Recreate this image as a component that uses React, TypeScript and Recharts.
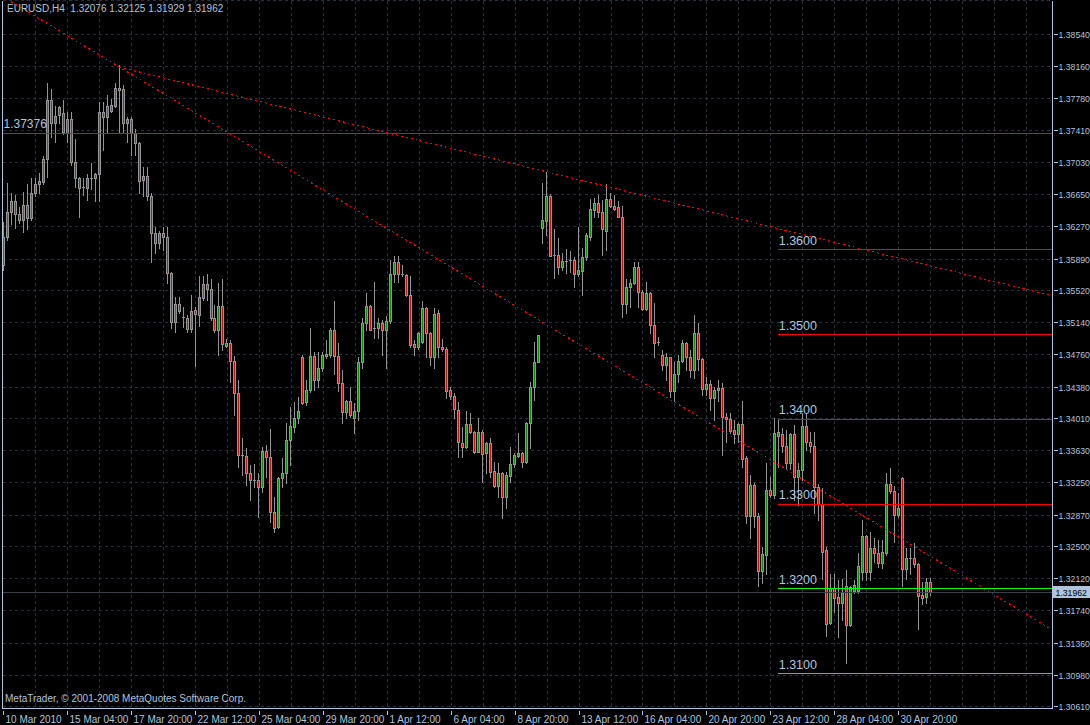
import { ComposedChart, Bar, XAxis, YAxis, CartesianGrid, ReferenceLine } from 'recharts'

// EURUSD H4, 10 Mar 2010 12:00 .. 3 May 2010
const opens = [
  1.3582, 1.3615, 1.3644, 1.3657, 1.3642, 1.3635, 1.3653, 1.3637, 1.3667, 1.3677,
  1.3680, 1.3707, 1.3777, 1.3750, 1.3759, 1.3761, 1.3738, 1.3754, 1.3704, 1.3685,
  1.3673, 1.3673, 1.3685, 1.3684, 1.3689, 1.3762, 1.3757, 1.3764, 1.3770, 1.3791,
  1.3789, 1.3749, 1.3754, 1.3738, 1.3726, 1.3682, 1.3687, 1.3663, 1.3620, 1.3608,
  1.3620, 1.3615, 1.3573, 1.3515, 1.3536, 1.3521, 1.3520, 1.3507, 1.3529, 1.3523,
  1.3543, 1.3559, 1.3554, 1.3520, 1.3505, 1.3534, 1.3487, 1.3490, 1.3469, 1.3431,
  1.3358, 1.3357, 1.3337, 1.3328, 1.3329, 1.3320, 1.3363, 1.3356, 1.3291, 1.3273,
  1.3331, 1.3337, 1.3376, 1.3391, 1.3402, 1.3473, 1.3420, 1.3435, 1.3475, 1.3446,
  1.3460, 1.3475, 1.3476, 1.3505, 1.3475, 1.3443, 1.3409, 1.3422, 1.3402, 1.3410,
  1.3467, 1.3514, 1.3534, 1.3507, 1.3508, 1.3514, 1.3505, 1.3516, 1.3571, 1.3585,
  1.3571, 1.3570, 1.3546, 1.3489, 1.3485, 1.3491, 1.3531, 1.3502, 1.3473, 1.3525,
  1.3485, 1.3483, 1.3435, 1.3428, 1.3411, 1.3372, 1.3367, 1.3394, 1.3385, 1.3362,
  1.3385, 1.3360, 1.3372, 1.3339, 1.3321, 1.3337, 1.3308, 1.3333, 1.3347, 1.3357,
  1.3360, 1.3350, 1.3396, 1.3438, 1.3468, 1.3626, 1.3634, 1.3663, 1.3593, 1.3594,
  1.3580, 1.3586, 1.3587, 1.3588, 1.3571, 1.3575, 1.3591, 1.3615, 1.3647, 1.3655,
  1.3645, 1.3622, 1.3660, 1.3651, 1.3650, 1.3639, 1.3536, 1.3556, 1.3561, 1.3580,
  1.3550, 1.3530, 1.3549, 1.3511, 1.3490, 1.3476, 1.3464, 1.3473, 1.3433, 1.3453,
  1.3469, 1.3490, 1.3474, 1.3458, 1.3502, 1.3471, 1.3436, 1.3442, 1.3425, 1.3434,
  1.3437, 1.3403, 1.3400, 1.3387, 1.3383, 1.3394, 1.3354, 1.3286, 1.3322, 1.3286,
  1.3221, 1.3240, 1.3317, 1.3311, 1.3380, 1.3383, 1.3368, 1.3349, 1.3383, 1.3332,
  1.3340, 1.3392, 1.3373, 1.3368, 1.3320, 1.3300, 1.3246, 1.3160, 1.3201, 1.3190,
  1.3183, 1.3204, 1.3157, 1.3198, 1.3198, 1.3220, 1.3262, 1.3220, 1.3248, 1.3242,
  1.3230, 1.3242, 1.3324, 1.3315, 1.3287, 1.3331, 1.3224, 1.3237, 1.3236, 1.3229,
  1.3193, 1.3190, 1.32076,
]

const highs = [
  1.3633, 1.3679, 1.3667, 1.3664, 1.3650, 1.3668, 1.3677, 1.3684, 1.3684, 1.3691,
  1.3710, 1.3797, 1.3789, 1.3769, 1.3770, 1.3777, 1.3762, 1.3762, 1.3730, 1.3686,
  1.3685, 1.3689, 1.3702, 1.3691, 1.3774, 1.3774, 1.3783, 1.3778, 1.3797, 1.3818,
  1.3794, 1.3756, 1.3756, 1.3742, 1.3727, 1.3697, 1.3698, 1.3667, 1.3627, 1.3622,
  1.3627, 1.3627, 1.3574, 1.3544, 1.3544, 1.3533, 1.3523, 1.3547, 1.3533, 1.3569,
  1.3569, 1.3571, 1.3565, 1.3535, 1.3561, 1.3565, 1.3495, 1.3494, 1.3475, 1.3446,
  1.3378, 1.3366, 1.3346, 1.3347, 1.3337, 1.3367, 1.3370, 1.3389, 1.3308, 1.3332,
  1.3354, 1.3396, 1.3415, 1.3420, 1.3426, 1.3476, 1.3446, 1.3508, 1.3479, 1.3479,
  1.3479, 1.3494, 1.3508, 1.3539, 1.3490, 1.3458, 1.3423, 1.3438, 1.3419, 1.3474,
  1.3520, 1.3549, 1.3535, 1.3562, 1.3520, 1.3517, 1.3522, 1.3588, 1.3592, 1.3592,
  1.3582, 1.3571, 1.3569, 1.3494, 1.3503, 1.3539, 1.3533, 1.3503, 1.3531, 1.3529,
  1.3495, 1.3485, 1.3438, 1.3431, 1.3420, 1.3391, 1.3410, 1.3407, 1.3386, 1.3402,
  1.3387, 1.3373, 1.3378, 1.3350, 1.3348, 1.3338, 1.3338, 1.3367, 1.3360, 1.3384,
  1.3361, 1.3397, 1.3444, 1.3491, 1.3500, 1.3679, 1.3692, 1.3666, 1.3624, 1.3614,
  1.3596, 1.3601, 1.3598, 1.3591, 1.3627, 1.3602, 1.3620, 1.3660, 1.3661, 1.3664,
  1.3659, 1.3677, 1.3667, 1.3664, 1.3657, 1.3651, 1.3566, 1.3565, 1.3586, 1.3586,
  1.3553, 1.3562, 1.3550, 1.3537, 1.3497, 1.3482, 1.3478, 1.3474, 1.3467, 1.3476,
  1.3494, 1.3491, 1.3482, 1.3523, 1.3514, 1.3472, 1.3450, 1.3446, 1.3438, 1.3446,
  1.3443, 1.3407, 1.3407, 1.3399, 1.3396, 1.3422, 1.3357, 1.3334, 1.3325, 1.3289,
  1.3249, 1.3348, 1.3332, 1.3402, 1.3400, 1.3390, 1.3387, 1.3384, 1.3393, 1.3348,
  1.3407, 1.3407, 1.3385, 1.3385, 1.3324, 1.3319, 1.3249, 1.3218, 1.3218, 1.3210,
  1.3212, 1.3222, 1.3204, 1.3210, 1.3242, 1.3281, 1.3264, 1.3267, 1.3260, 1.3258,
  1.3258, 1.3337, 1.3343, 1.3321, 1.3313, 1.3332, 1.3248, 1.3248, 1.3254, 1.3231,
  1.3208, 1.3213, 1.32125,
]

const lows = [
  1.3576, 1.3612, 1.3630, 1.3626, 1.3632, 1.3621, 1.3625, 1.3635, 1.3663, 1.3667,
  1.3678, 1.3686, 1.3733, 1.3727, 1.3750, 1.3736, 1.3727, 1.3700, 1.3674, 1.3639,
  1.3664, 1.3659, 1.3671, 1.3657, 1.3657, 1.3718, 1.3739, 1.3762, 1.3768, 1.3738,
  1.3738, 1.3727, 1.3712, 1.3712, 1.3667, 1.3663, 1.3659, 1.3586, 1.3596, 1.3602,
  1.3600, 1.3561, 1.3508, 1.3503, 1.3525, 1.3509, 1.3503, 1.3503, 1.3463, 1.3510,
  1.3541, 1.3541, 1.3517, 1.3503, 1.3476, 1.3482, 1.3485, 1.3444, 1.3405, 1.3344,
  1.3334, 1.3322, 1.3305, 1.3320, 1.3285, 1.3314, 1.3332, 1.3279, 1.3267, 1.3272,
  1.3320, 1.3325, 1.3346, 1.3385, 1.3396, 1.3418, 1.3417, 1.3432, 1.3435, 1.3438,
  1.3457, 1.3472, 1.3474, 1.3454, 1.3433, 1.3396, 1.3402, 1.3403, 1.3384, 1.3399,
  1.3461, 1.3505, 1.3505, 1.3496, 1.3496, 1.3476, 1.3461, 1.3514, 1.3562, 1.3562,
  1.3569, 1.3545, 1.3485, 1.3476, 1.3483, 1.3490, 1.3473, 1.3464, 1.3461, 1.3474,
  1.3480, 1.3425, 1.3424, 1.3402, 1.3355, 1.3355, 1.3366, 1.3384, 1.3360, 1.3361,
  1.3326, 1.3337, 1.3332, 1.3320, 1.3308, 1.3284, 1.3295, 1.3326, 1.3344, 1.3355,
  1.3344, 1.3349, 1.3366, 1.3423, 1.3467, 1.3608, 1.3617, 1.3592, 1.3567, 1.3571,
  1.3576, 1.3573, 1.3574, 1.3556, 1.3569, 1.3546, 1.3588, 1.3612, 1.3639, 1.3639,
  1.3594, 1.3600, 1.3650, 1.3647, 1.3638, 1.3521, 1.3525, 1.3533, 1.3559, 1.3533,
  1.3529, 1.3529, 1.3502, 1.3473, 1.3488, 1.3458, 1.3446, 1.3426, 1.3421, 1.3444,
  1.3467, 1.3458, 1.3450, 1.3449, 1.3458, 1.3429, 1.3429, 1.3411, 1.3399, 1.3421,
  1.3358, 1.3373, 1.3384, 1.3372, 1.3373, 1.3344, 1.3278, 1.3260, 1.3273, 1.3204,
  1.3207, 1.3218, 1.3308, 1.3307, 1.3344, 1.3362, 1.3343, 1.3341, 1.3305, 1.3299,
  1.3328, 1.3364, 1.3362, 1.3289, 1.3281, 1.3212, 1.3145, 1.3159, 1.3173, 1.3143,
  1.3163, 1.3113, 1.3156, 1.3195, 1.3195, 1.3210, 1.3210, 1.3210, 1.3232, 1.3226,
  1.3225, 1.3240, 1.3313, 1.3255, 1.3285, 1.3204, 1.3212, 1.3218, 1.3226, 1.3153,
  1.3182, 1.3183, 1.31929,
]

const closes = [
  1.3615, 1.3644, 1.3657, 1.3642, 1.3635, 1.3653, 1.3637, 1.3667, 1.3677, 1.3681,
  1.3707, 1.3777, 1.3750, 1.3758, 1.3768, 1.3739, 1.3754, 1.3704, 1.3685, 1.3673,
  1.3674, 1.3685, 1.3684, 1.3689, 1.3762, 1.3757, 1.3770, 1.3771, 1.3791, 1.3788,
  1.3749, 1.3754, 1.3738, 1.3726, 1.3681, 1.3687, 1.3663, 1.3620, 1.3608, 1.3620,
  1.3615, 1.3573, 1.3515, 1.3536, 1.3528, 1.3520, 1.3507, 1.3528, 1.3524, 1.3544,
  1.3559, 1.3554, 1.3520, 1.3505, 1.3534, 1.3489, 1.3490, 1.3469, 1.3431, 1.3358,
  1.3357, 1.3337, 1.3328, 1.3329, 1.3320, 1.3363, 1.3356, 1.3291, 1.3272, 1.3331,
  1.3337, 1.3376, 1.3392, 1.3402, 1.3410, 1.3419, 1.3435, 1.3475, 1.3446, 1.3461,
  1.3476, 1.3477, 1.3505, 1.3475, 1.3443, 1.3409, 1.3422, 1.3405, 1.3410, 1.3467,
  1.3514, 1.3534, 1.3505, 1.3508, 1.3514, 1.3505, 1.3516, 1.3571, 1.3585, 1.3571,
  1.3570, 1.3546, 1.3488, 1.3485, 1.3502, 1.3531, 1.3502, 1.3473, 1.3524, 1.3485,
  1.3483, 1.3433, 1.3428, 1.3412, 1.3373, 1.3367, 1.3394, 1.3385, 1.3362, 1.3385,
  1.3359, 1.3372, 1.3338, 1.3321, 1.3337, 1.3308, 1.3334, 1.3347, 1.3358, 1.3360,
  1.3350, 1.3396, 1.3438, 1.3468, 1.3499, 1.3635, 1.3663, 1.3593, 1.3594, 1.3580,
  1.3587, 1.3587, 1.3588, 1.3571, 1.3576, 1.3591, 1.3617, 1.3648, 1.3655, 1.3645,
  1.3624, 1.3660, 1.3651, 1.3648, 1.3639, 1.3536, 1.3556, 1.3561, 1.3580, 1.3550,
  1.3530, 1.3549, 1.3511, 1.3490, 1.3491, 1.3464, 1.3473, 1.3433, 1.3453, 1.3469,
  1.3490, 1.3474, 1.3458, 1.3502, 1.3471, 1.3436, 1.3442, 1.3425, 1.3435, 1.3437,
  1.3403, 1.3400, 1.3386, 1.3383, 1.3394, 1.3353, 1.3286, 1.3322, 1.3286, 1.3221,
  1.3241, 1.3317, 1.3311, 1.3384, 1.3385, 1.3368, 1.3349, 1.3383, 1.3332, 1.3340,
  1.3392, 1.3373, 1.3368, 1.3320, 1.3300, 1.3244, 1.3159, 1.3201, 1.3189, 1.3183,
  1.3195, 1.3158, 1.3202, 1.3205, 1.3227, 1.3262, 1.3220, 1.3248, 1.3242, 1.3230,
  1.3243, 1.3324, 1.3315, 1.3287, 1.3295, 1.3224, 1.3237, 1.3235, 1.3229, 1.3192,
  1.3189, 1.3208, 1.31962,
]

// time axis: one label every 16 bars
const dateTicks = [0, 16, 32, 48, 64, 80, 96, 112, 128, 144, 160, 176, 192, 208, 224]
const dateLabels = [
  '10 Mar 2010', '15 Mar 04:00', '17 Mar 20:00', '22 Mar 12:00', '25 Mar 04:00',
  '29 Mar 20:00', '1 Apr 12:00', '6 Apr 04:00', '8 Apr 20:00', '13 Apr 12:00',
  '16 Apr 04:00', '20 Apr 20:00', '23 Apr 12:00', '28 Apr 04:00', '30 Apr 20:00',
]

const priceTicks = [
  1.3854, 1.3816, 1.3778, 1.3741, 1.3703, 1.3665, 1.3627, 1.3589, 1.3552, 1.3514, 1.3476,
  1.3438, 1.3401, 1.3363, 1.3325, 1.3287, 1.325, 1.3212, 1.3174, 1.3136, 1.3098, 1.3061,
]

// drawn objects
const markedHigh = 1.37376
const redLevels = [1.36, 1.35, 1.34, 1.33]
const greenLevels = [1.32, 1.31]
const levelsFromBar = 193.7
const steepTrend = [
  { x: 2, y: 1.38923 },
  { x: 262, y: 1.31528 },
]
const upperTrend = [
  { x: 29, y: 1.38154 },
  { x: 262, y: 1.35462 },
]

const X_MIN = -0.2
const X_MAX = 262.3
const Y_MIN = 1.305896
const Y_MAX = 1.389387

const FONT = '"Liberation Sans", Arial, sans-serif'
const TEXT = '#b0c4de'
const FRAME = '#b0c4de'
const GRID = '#27303c'
const WICK = '#949494'
const BULL = '#138a13'
const BEAR = '#c41414'
const RED = '#ff0000'
const GREEN = '#00ff00'

const candles = opens.map((o, i) => ({ i, open: o, high: highs[i], low: lows[i], close: closes[i] }))
const last = candles[candles.length - 1]
const gridBars = Array.from({ length: 32 }, (_, k) => 8 * (k + 1))

function Candle(props: any) {
  const { x, y, width, height, payload } = props
  const top = Math.min(y, y + height)
  const bottom = Math.max(y, y + height)
  const k = (bottom - top) / (payload.high - payload.low)
  const py = (p: number) => top + (payload.high - p) * k
  const c = Math.floor(x + width / 2) + 0.5
  const bTop = Math.round(py(Math.max(payload.open, payload.close)))
  const bBot = Math.round(py(Math.min(payload.open, payload.close)))
  const up = payload.close >= payload.open
  return (
    <g>
      <line x1={c} x2={c} y1={Math.round(top)} y2={Math.round(bottom) + 1} stroke={WICK} />
      {bBot - bTop < 2 ? (
        <rect x={c - 1.5} y={bTop} width={3} height={1} fill={WICK} />
      ) : (
        <>
          <rect x={c - 1.5} y={bTop} width={3} height={bBot - bTop + 1} fill={WICK} />
          <rect x={c - 0.5} y={bTop + 1} width={1} height={bBot - bTop - 1} fill={up ? BULL : BEAR} />
        </>
      )}
    </g>
  )
}

function DateTick(props: any) {
  const { x, y, payload } = props
  const cx = Math.floor(x) + 0.5
  return (
    <g>
      <line x1={cx} x2={cx} y1={y} y2={y + 4} stroke={FRAME} />
      <text x={cx + 2} y={y + 12.5} fill={TEXT} fontSize={10} fontFamily={FONT} textAnchor="start">
        {dateLabels[dateTicks.indexOf(payload.value)]}
      </text>
    </g>
  )
}

function PriceTick(props: any) {
  const { x, y, payload } = props
  const cy = Math.floor(y) + 0.5
  return (
    <g>
      <line x1={x} x2={x + 4} y1={cy} y2={cy} stroke={FRAME} />
      <text x={x + 4.5} y={cy + 3.5} fill={TEXT} fontSize={8.7} fontFamily={FONT} textAnchor="start">
        {payload.value.toFixed(5)}
      </text>
    </g>
  )
}

const levelLabel = (text: string, size: number) => (p: any) => (
  <text x={p.viewBox.x + 1} y={p.viewBox.y - 5} fill={TEXT} fontSize={size} fontFamily={FONT} textAnchor="start">
    {text}
  </text>
)

const priceBox = (p: any) => {
  const bx = p.viewBox.x + p.viewBox.width + 1
  const by = Math.round(p.viewBox.y)
  return (
    <g>
      <rect x={bx} y={by - 6} width={37} height={12} fill={TEXT} />
      <text x={bx + 2.5} y={by + 3.5} fill="#000" fontSize={8.7} fontFamily={FONT} textAnchor="start">
        {last.close.toFixed(5)}
      </text>
    </g>
  )
}

export default function App() {
  return (
    <div className="mt" style={{ position: 'relative', width: 1090, height: 725, background: '#000' }}>
      <style>{'body{margin:0;background:#000}.mt svg line,.mt svg rect,.mt svg path{shape-rendering:crispEdges}'}</style>
      <ComposedChart
        width={1090}
        height={725}
        data={candles}
        margin={{ top: 0.5, right: 0, bottom: 0, left: 2.5 }}
        style={{ background: '#000' }}
      >
        <CartesianGrid
          stroke={GRID}
          strokeDasharray="3 3"
          verticalCoordinatesGenerator={({ offset }: any) =>
            gridBars.map((b) => offset.left + ((b - X_MIN) / (X_MAX - X_MIN)) * offset.width)
          }
        />
        <XAxis
          type="number"
          dataKey="i"
          domain={[X_MIN, X_MAX]}
          allowDataOverflow
          ticks={dateTicks}
          interval={0}
          height={16.5}
          tickSize={0}
          tickLine={false}
          axisLine={{ stroke: FRAME }}
          tick={(p: any) => <DateTick {...p} />}
        />
        <YAxis
          type="number"
          orientation="right"
          domain={[Y_MIN, Y_MAX]}
          allowDataOverflow
          ticks={priceTicks}
          interval={0}
          width={38}
          tickSize={0}
          tickLine={false}
          axisLine={{ stroke: FRAME }}
          tick={(p: any) => <PriceTick {...p} />}
        />
        <ReferenceLine x={X_MIN} stroke={FRAME} />
        <ReferenceLine y={last.close} stroke="#3a4049" label={priceBox} />
        <Bar dataKey={(d: any) => [d.low, d.high]} barSize={4} shape={<Candle />} isAnimationActive={false} />
        <ReferenceLine segment={steepTrend} stroke={RED} strokeDasharray="2 3" ifOverflow="visible" />
        <ReferenceLine segment={upperTrend} stroke={RED} strokeDasharray="2 3" ifOverflow="visible" />
        <ReferenceLine y={markedHigh} stroke={RED} label={levelLabel(markedHigh.toFixed(5), 12)} />
        {redLevels.map((p) => (
          <ReferenceLine
            key={p}
            segment={[{ x: levelsFromBar, y: p }, { x: X_MAX, y: p }]}
            stroke={RED}
            label={levelLabel(p.toFixed(4), 12.5)}
          />
        ))}
        {greenLevels.map((p) => (
          <ReferenceLine
            key={p}
            segment={[{ x: levelsFromBar, y: p }, { x: X_MAX, y: p }]}
            stroke={GREEN}
            label={levelLabel(p.toFixed(4), 12.5)}
          />
        ))}
      </ComposedChart>
      <div
        style={{
          position: 'absolute', left: 7, top: 3, color: TEXT, fontFamily: FONT, fontSize: 10,
          whiteSpace: 'pre', lineHeight: '12px',
        }}
      >
        {`EURUSD,H4  ${last.open.toFixed(5)} ${last.high.toFixed(5)} ${last.low.toFixed(5)} ${last.close.toFixed(5)}`}
      </div>
      <div
        style={{
          position: 'absolute', left: 5, top: 693, color: TEXT, fontFamily: FONT, fontSize: 10,
          whiteSpace: 'pre', lineHeight: '12px',
        }}
      >
        MetaTrader, © 2001-2008 MetaQuotes Software Corp.
      </div>
    </div>
  )
}
